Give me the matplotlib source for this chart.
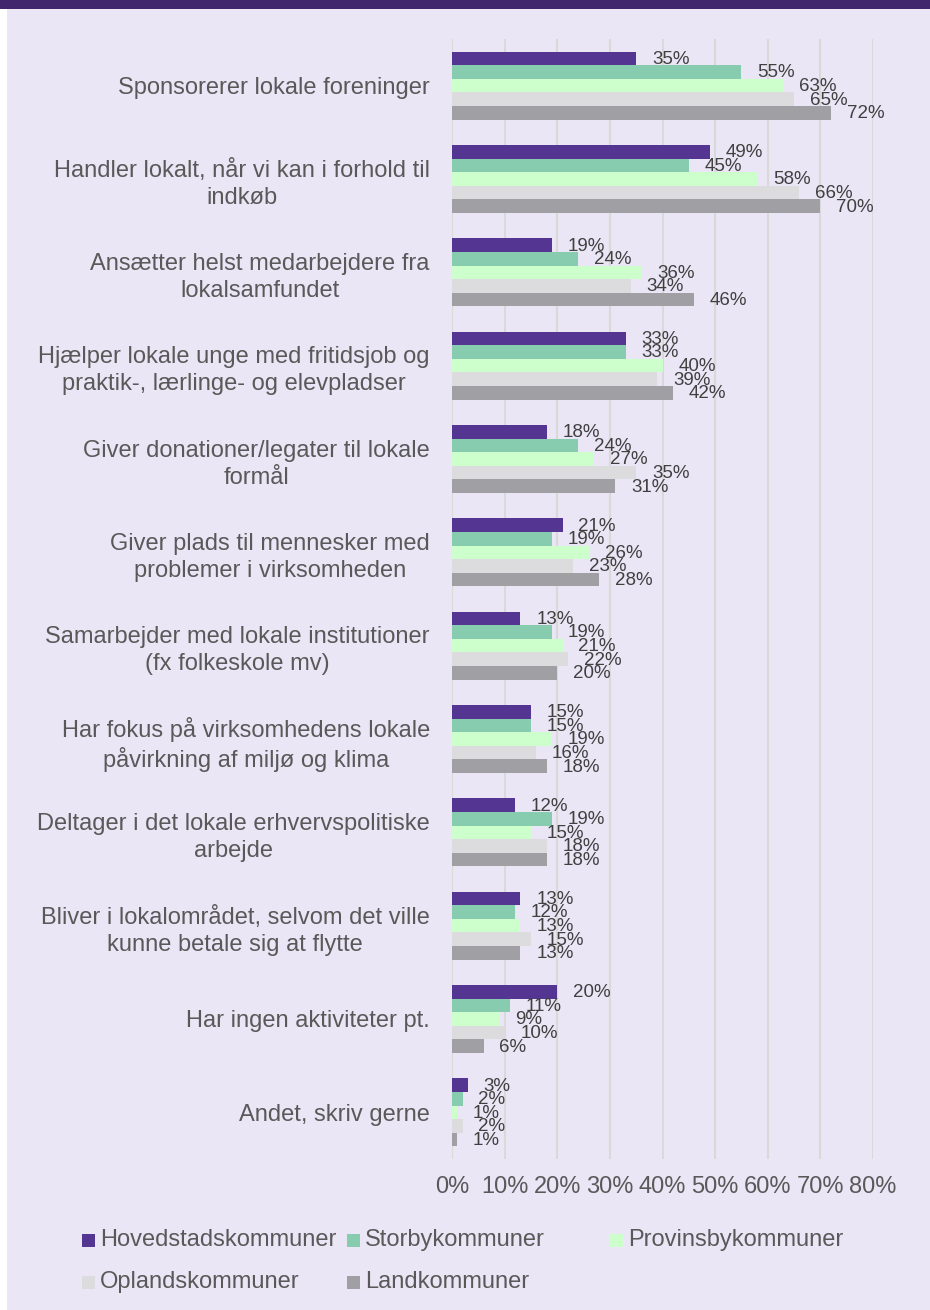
import numpy as np
import matplotlib
matplotlib.use("Agg")
import matplotlib.pyplot as plt
from matplotlib.patches import Rectangle

plt.rcParams['font.family'] = ['Liberation Sans', 'DejaVu Sans']

categories = [
    "Sponsorerer lokale foreninger",
    "Handler lokalt, når vi kan i forhold til\nindkøb",
    "Ansætter helst medarbejdere fra\nlokalsamfundet",
    "Hjælper lokale unge med fritidsjob og\npraktik-, lærlinge- og elevpladser",
    "Giver donationer/legater til lokale\nformål",
    "Giver plads til mennesker med\nproblemer i virksomheden",
    "Samarbejder med lokale institutioner\n(fx folkeskole mv)",
    "Har fokus på virksomhedens lokale\npåvirkning af miljø og klima",
    "Deltager i det lokale erhvervspolitiske\narbejde",
    "Bliver i lokalområdet, selvom det ville\nkunne betale sig at flytte",
    "Har ingen aktiviteter pt.",
    "Andet, skriv gerne",
]

series_names = ["Hovedstadskommuner", "Storbykommuner", "Provinsbykommuner",
                "Oplandskommuner", "Landkommuner"]

hovedstad = [35, 49, 19, 33, 18, 21, 13, 15, 12, 13, 20, 3]
storby    = [55, 45, 24, 33, 24, 19, 19, 15, 19, 12, 11, 2]
provinsby = [63, 58, 36, 40, 27, 26, 21, 19, 15, 13, 9, 1]
opland    = [65, 66, 34, 39, 35, 23, 22, 16, 18, 15, 10, 2]
land      = [72, 70, 46, 42, 31, 28, 20, 18, 18, 13, 6, 1]

colors = ["#553592", "#88CCB0", "#CCFFCC", "#DCDCDE", "#A0A0A4"]
series = [hovedstad, storby, provinsby, opland, land]

bg = "#EAE6F5"
fig = plt.figure(figsize=(9.3, 13.1), dpi=100)
fig.patch.set_facecolor("white")
fig.patches.append(Rectangle((7/930, 0), 1, 1, transform=fig.transFigure,
                             facecolor=bg, edgecolor="none", zorder=-10))
fig.patches.append(Rectangle((0, 1 - 9/1310), 1, 9/1310, transform=fig.transFigure,
                             facecolor="#41266E", edgecolor="none", zorder=-9))

ax = fig.add_axes([452/930, 1 - 1159/1310, (873-452)/930, (1159-39)/1310])
ax.set_facecolor("none")

n = len(categories)
y = np.arange(n)
h = 0.146
for i, (vals, c) in enumerate(zip(series, colors)):
    pos = y + (i - 2) * h
    ax.barh(pos, np.array(vals) / 100, height=h, color=c, edgecolor="none", zorder=3)
    for p, v in zip(pos, vals):
        ax.text(v / 100 + 0.03, p + 0.01, "%d%%" % v, va="center", ha="left",
                fontsize=13.5, color="#404040", zorder=4)

ax.set_xlim(0, 0.8)
ax.set_ylim(n - 0.5, -0.5)
ax.set_xticks(np.arange(0, 0.81, 0.1))
ax.set_xticklabels(["%d%%" % t for t in range(0, 81, 10)])
ax.set_yticks(y)
ax.set_yticklabels(categories)
for lbl in ax.get_yticklabels():
    lbl.set_multialignment("center")
    lbl.set_fontsize(17)
    lbl.set_color("#595959")
    lbl.set_linespacing(1.3)
for lbl in ax.get_xticklabels():
    lbl.set_fontsize(17)
    lbl.set_color("#595959")
ax.tick_params(axis="y", length=0, pad=16)
ax.tick_params(axis="x", length=0, pad=12)
ax.grid(axis="x", color="#D9D9D9", linewidth=1.5, zorder=0)
for s in ax.spines.values():
    s.set_visible(False)

# legend
leg_pos = [(82, 1240), (347, 1240), (610, 1240), (82, 1282), (347, 1282)]
for (lx, ly), name, c in zip(leg_pos, series_names, colors):
    fig.patches.append(Rectangle((lx/930, 1 - (ly + 6.5)/1310), 13/930, 13/1310,
                                 transform=fig.transFigure, facecolor=c, edgecolor="none"))
    fig.text((lx + 18)/930, 1 - ly/1310, name, ha="left", va="center",
             fontsize=17, color="#595959")

fig.savefig("out.png", dpi=100, facecolor=fig.get_facecolor())
